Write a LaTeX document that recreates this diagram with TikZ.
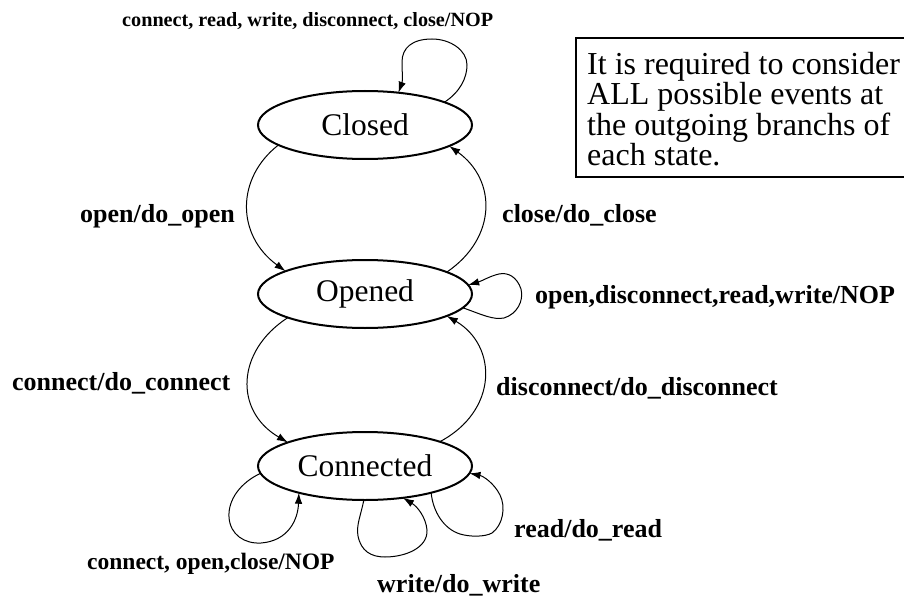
\documentclass[tikz,border=0pt]{standalone}
\usepackage{fontspec}
\setmainfont{Liberation Serif}
\usetikzlibrary{shapes.geometric,arrows.meta}
\tikzset{
  state/.style={draw, ellipse, line width=2pt, minimum width=214pt, minimum height=68pt, inner sep=0pt, outer sep=0pt, font=\fontsize{31.5}{34}\selectfont},
  edge/.style={line width=1pt, -{Latex[length=11pt,width=7.5pt]}},
  lbl/.style={anchor=base west, inner sep=0pt, font=\fontsize{26}{28}\selectfont\bfseries},
  lblsmall/.style={lbl, font=\fontsize{20.2}{22}\selectfont\bfseries},
  lblmid/.style={lbl, font=\fontsize{23.5}{26}\selectfont\bfseries},
  note/.style={anchor=north west, inner sep=0pt, align=left, font=\fontsize{32}{30.4}\selectfont}
}
\begin{document}
\begin{tikzpicture}[x=1pt,y=-1pt]
\useasboundingbox (0,0) rectangle (904,596);
\fill[white] (0,0) rectangle (904,596);

\node[state] (closed) at (365,125) {Closed};
\node[state] (opened) at (365,294) {Opened};
\node[state] (conn) at (365,466) {Connected};

% note box (open on the right, cut by the picture edge)
\draw[line width=1.5pt] (904,38) -- (576,38) -- (576,177) -- (904,177);
\node[note] (nt) at (587,52) {It is required to consider\\ALL possible events at\\the outgoing branchs of\\each state.};

% labels
\node[lblsmall] (l1) at (122,27) {connect, read, write, disconnect, close/NOP};
\node[lbl] (l2) at (80,222) {open/do\_open};
\node[lbl] (l3) at (502,222) {close/do\_close};
\node[lbl] (l4) at (535,303) {open,disconnect,read,write/NOP};
\node[lbl] (l5) at (12,390) {connect/do\_connect};
\node[lbl] (l6) at (496,395) {disconnect/do\_disconnect};
\node[lbl] (l7) at (514,537) {read/do\_read};
\node[lblmid] (l8) at (87,569) {connect, open,close/NOP};
\node[lbl] (l9) at (377,592) {write/do\_write};

% Closed self loop
\draw[edge] (closed.16) .. controls (460,92) and (467,78) .. (467,65)
  .. controls (467,50) and (450,39) .. (432,39)
  .. controls (412,39) and (402,48) .. (402,62)
  .. controls (402,72) and (403,80) .. (closed.44);

% Closed -> Opened
\draw[edge] (closed.193) .. controls (236,178) and (236,235) .. (opened.164);
% Opened -> Closed
\draw[edge] (opened.15) .. controls (497,238) and (497,180) .. (closed.-14);

% Opened self loop
\draw[edge] (opened.-8) .. controls (483,315) and (493,320) .. (504,318)
  .. controls (517,314) and (524,301) .. (521,289)
  .. controls (517,277) and (508,272) .. (499,274)
  .. controls (490,276) and (482,281) .. (opened.5);

% Opened -> Connected
\draw[edge] (opened.197) .. controls (236,351) and (234,411) .. (conn.163);
% Connected -> Opened
\draw[edge] (conn.18) .. controls (498,411) and (498,346) .. (opened.-15);

% Connected left loop
\draw[edge] (conn.184) .. controls (240,483) and (228,500) .. (229,517)
  .. controls (230,535) and (245,544) .. (261,543)
  .. controls (288,541) and (298,520) .. (conn.202);

% write loop
\draw[edge] (conn.268) .. controls (361,515) and (356,525) .. (358,536)
  .. controls (361,551) and (371,557) .. (385,557)
  .. controls (405,557) and (428,548) .. (427,530)
  .. controls (426,518) and (418,507) .. (conn.-40);

% read loop
\draw[edge] (conn.-22) .. controls (433,512) and (444,529) .. (460,534)
  .. controls (470,537) and (485,537) .. (492,533)
  .. controls (503,525) and (506,507) .. (500,495)
  .. controls (494,483) and (483,476) .. (conn.-4);
\end{tikzpicture}
\end{document}
